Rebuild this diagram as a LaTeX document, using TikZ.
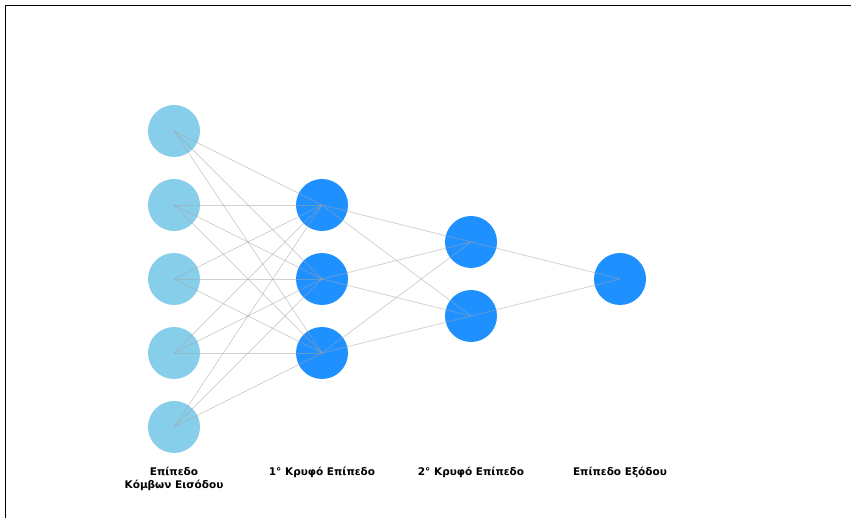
\documentclass[tikz,border=0pt]{standalone}
\usepackage{fontspec}
\setmainfont{DejaVu Sans}
\begin{document}
\begin{tikzpicture}[x=1pt,y=-1pt,
  inode/.style={circle,fill=inputblue,minimum size=52pt,inner sep=0pt},
  hnode/.style={circle,fill=hiddenblue,minimum size=52pt,inner sep=0pt},
  link/.style={draw=black!35,opacity=0.5,line width=0.8pt},
  layername/.style={font=\fontsize{10.5}{13}\selectfont\bfseries,align=center,anchor=base}]
\definecolor{inputblue}{HTML}{87CEEB}
\definecolor{hiddenblue}{HTML}{1E90FF}
\useasboundingbox (0,0) rectangle (851,518);
\draw[line width=1.8pt] (5.5,518) -- (5.5,5.5) -- (851,5.5);

% layers
\foreach \i/\y in {1/131,2/205,3/279,4/353,5/427}
  \node[inode] (in\i) at (174,\y) {};
\foreach \i/\y in {1/205,2/279,3/353}
  \node[hnode] (ha\i) at (322,\y) {};
\foreach \i/\y in {1/242,2/316}
  \node[hnode] (hb\i) at (471,\y) {};
\node[hnode] (out) at (620,279) {};

% connections
\foreach \i in {1,...,5}
  \foreach \j in {1,2,3}
    \draw[link] (in\i.center) -- (ha\j.center);
\foreach \i in {1,2,3}
  \foreach \j in {1,2}
    \draw[link] (ha\i.center) -- (hb\j.center);
\foreach \j in {1,2}
  \draw[link] (hb\j.center) -- (out.center);

% labels
\node[layername] (lin) at (174,488) {Επίπεδο\\Κόμβων Εισόδου};
\node[layername] (lha) at (322,475) {1° Κρυφό Επίπεδο};
\node[layername] (lhb) at (471,475) {2° Κρυφό Επίπεδο};
\node[layername] (lout) at (620,475) {Επίπεδο Εξόδου};
\end{tikzpicture}
\end{document}
